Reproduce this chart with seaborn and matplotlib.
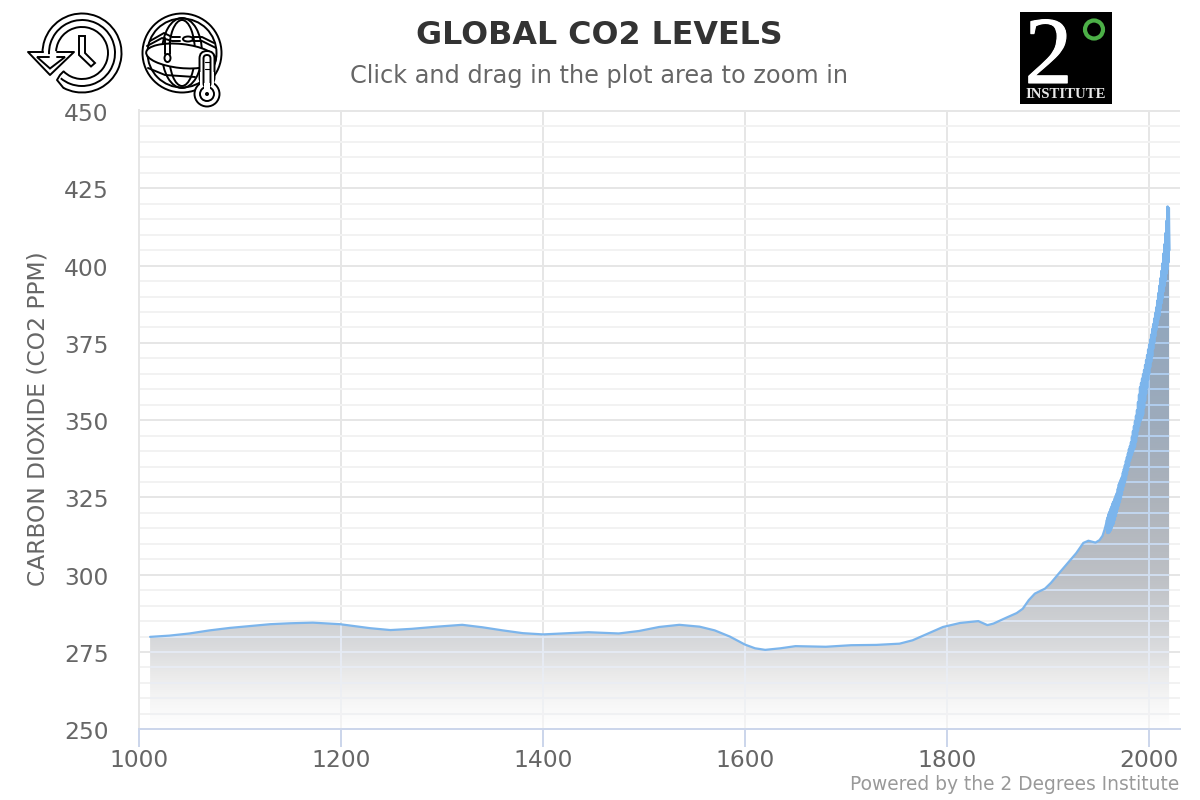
import numpy as np
import pandas as pd
import seaborn as sns
import matplotlib
matplotlib.use("Agg")
import matplotlib.pyplot as plt
import matplotlib.patheffects as pe
from matplotlib.collections import LineCollection
from matplotlib.colors import LinearSegmentedColormap
from matplotlib.patches import Arc, Circle, Ellipse, Polygon, Rectangle, FancyBboxPatch
from matplotlib.transforms import ScaledTranslation

# ---------- data ----------
proxy_years = [1011, 1030, 1050, 1070, 1090, 1110, 1130, 1150, 1172, 1199, 1215, 1229, 1249, 1270, 1295, 1320,
               1340, 1360, 1380, 1400, 1420, 1445, 1475, 1495, 1515, 1535, 1555, 1570, 1585, 1600, 1610, 1620,
               1635, 1650, 1680, 1705, 1730, 1753, 1766, 1780, 1796, 1813, 1831, 1840, 1846, 1858, 1869, 1875,
               1881, 1887, 1897, 1903, 1912, 1922, 1928, 1935, 1940, 1947, 1951, 1954, 1956]
proxy_ppm = [279.9, 280.3, 281.0, 282.0, 282.8, 283.4, 284.0, 284.3, 284.5, 284.0, 283.3, 282.7, 282.1, 282.5, 283.2, 283.8,
             283.0, 282.0, 281.1, 280.7, 281.0, 281.4, 281.0, 281.8, 283.1, 283.8, 283.2, 282.0, 280.0, 277.4, 276.2, 275.7,
             276.2, 276.9, 276.7, 277.2, 277.3, 277.7, 278.8, 280.8, 283.1, 284.4, 285.0, 283.7, 284.2, 286.0, 287.6, 289.0,
             291.8, 293.9, 295.5, 297.4, 300.9, 304.7, 307.0, 310.3, 311.0, 310.4, 311.2, 312.6, 314.6]

seasonal_years = list(range(1958, 2020))
seasonal_peaks = [317.6, 318.6, 319.7, 320.5, 321.4, 322.2, 323.2, 323.8, 324.7, 325.6, 326.4, 327.8,
                  329.2, 330.0, 330.8, 331.6, 333.0, 334.2, 335.4, 336.8, 338.0, 339.2, 340.6, 341.6, 342.8,
                  344.6, 346.4, 348.0, 349.6, 351.4, 353.2, 355.8, 358.2, 360.6, 362.0, 363.4, 364.8, 366.2,
                  367.8, 369.4, 371.0, 372.8, 374.4, 376.0, 377.6, 379.4, 381.0, 382.8, 384.6, 386.4, 388.6,
                  391.0, 393.4, 395.8, 398.2, 400.6, 403.8, 406.8, 410.4, 414.4, 419.0, 418.6]
seasonal_troughs = [313.6, 313.6, 313.9, 314.4, 315.2, 316.0, 316.6, 317.8, 319.0, 320.2, 321.4, 322.4,
                    323.5, 324.7, 326.0, 327.5, 328.7, 329.9, 331.1, 332.5, 333.9, 335.3, 336.9, 337.9, 338.9,
                    339.9, 340.7, 341.5, 343.1, 344.9, 346.7, 348.1, 349.5, 350.3, 350.9, 351.9, 354.1, 356.3,
                    358.5, 360.5, 363.1, 365.1, 367.1, 368.9, 370.7, 373.1, 375.1, 377.1, 379.1, 380.9, 382.5,
                    383.7, 385.9, 387.7, 389.3, 391.5, 393.3, 395.1, 397.3, 398.7, 401.0, 405.0]

x_ticks = [1000, 1200, 1400, 1600, 1800, 2000]
y_ticks = [250, 275, 300, 325, 350, 375, 400, 425, 450]
minor_y_ticks = [v for v in range(250, 451, 5) if v not in y_ticks]

title = "GLOBAL CO2 LEVELS"
subtitle = "Click and drag in the plot area to zoom in"
y_label = "CARBON DIOXIDE (CO2 PPM)"
credit = "Powered by the 2 Degrees Institute"

# ---------- assemble series ----------
xs = list(proxy_years)
ys = list(proxy_ppm)
mx, my = [proxy_years[-1]], [proxy_ppm[-1]]
for yr, p, t in zip(seasonal_years, seasonal_peaks, seasonal_troughs):
    xs += [yr + 0.4, yr + 0.9]
    ys += [p, t]
    mx += [yr + 0.4, yr + 0.9]
    my += [p, t]
df = pd.DataFrame({"year": xs, "ppm": ys})
df_modern = pd.DataFrame({"year": mx[1:], "ppm": my[1:]})

# ---------- theme ----------
sns.set_theme(style="white")
plt.rcParams["font.family"] = ["DejaVu Sans"]
W, H = 1200, 800
fig = plt.figure(figsize=(12, 8), dpi=100, facecolor="white")
L, R, T, B = 139, 1180, 109.6, 729.3
ax = fig.add_axes([L / W, 1 - B / H, (R - L) / W, (B - T) / H])
ax.set_xlim(1000, 1000 + (R - L) / 1.01)
ax.set_ylim(250, 250 + (B - T) / 3.0914)

LW = 1.44
ax.set_axisbelow(True)
ax.set_xticks(x_ticks)
ax.set_yticks(y_ticks)
ax.set_yticks(minor_y_ticks, minor=True)
ax.grid(True, which="major", axis="both", color="#e6e6e6", lw=LW, zorder=1)
ax.grid(True, which="minor", axis="y", color="#f2f2f2", lw=LW, zorder=1)
ax.tick_params(axis="y", which="both", left=False, length=0, pad=22, labelsize=16.8, labelcolor="#666666")
ax.tick_params(axis="x", which="major", bottom=True, length=13, width=LW, color="#ccd6eb", pad=1.5, labelsize=16.8, labelcolor="#666666")
for lab in ax.get_yticklabels():
    lab.set_transform(lab.get_transform() + ScaledTranslation(0, -1 / 100, fig.dpi_scale_trans))
for name, sp in ax.spines.items():
    sp.set_visible(name in ("bottom", "left"))
    sp.set_linewidth(LW)
    sp.set_color("#ccd6eb" if name == "bottom" else "#e6e6e6")
    sp.set_zorder(5 if name == "bottom" else 1.5)

# gradient area below the curve
fill_cmap = LinearSegmentedColormap.from_list("fill", [
    (0.0, "#ffffff"), (0.05, "#f6f6f6"), (0.1, "#ebebeb"), (0.15, "#dbdcde"), (0.2, "#cfd1d4"), (0.29, "#bdc0c5"),
    (0.44, "#adb3bb"), (0.59, "#9dabbb"), (0.76, "#93a7bd"), (1.0, "#86a0bf")])
grad = np.linspace(1, 0, 256).reshape(-1, 1)
x0, x1 = ax.get_xlim()
im = ax.imshow(grad, cmap=fill_cmap, vmin=0, vmax=1, extent=[x0, x1, 250, 420], aspect="auto", zorder=2)
ax.set_ylim(250, 250 + (B - T) / 3.0914)
poly = Polygon(np.column_stack([xs + [xs[-1], xs[0]], ys + [250, 250]]), closed=True,
               transform=ax.transData, fc="none", ec="none")
ax.add_patch(poly)
im.set_clip_path(poly)

# grid lines seen through the area
grid_cmap = LinearSegmentedColormap.from_list("gridtint", [
    (0.0, "#f3f3f3"), (0.15, "#e4e9f3"), (0.3, "#cfdcee"), (0.45, "#bcd2ec"), (0.65, "#aecbec"), (1.0, "#a5c6ec")])
hv = [v for v in sorted(y_ticks + minor_y_ticks) if 250 < v <= 420]
h_lines = LineCollection([[(x0, v), (x1, v)] for v in hv],
                         colors=[grid_cmap((v - 250) / 170) for v in hv], linewidths=LW, zorder=3)
ax.add_collection(h_lines)
h_lines.set_clip_path(poly)
levels = np.arange(250, 420, 2.0)
segs, cols = [], []
for xv in x_ticks[1:]:
    for a in levels:
        segs.append([(xv, a), (xv, a + 2)])
        cols.append(grid_cmap((a - 250) / 170))
v_lines = LineCollection(segs, colors=cols, linewidths=LW, zorder=3, capstyle="butt")
ax.add_collection(v_lines)
v_lines.set_clip_path(poly)

sns.lineplot(data=df, x="year", y="ppm", estimator=None, sort=False, color="#7cb5ec", lw=1.6, ax=ax, zorder=4, legend=False)
sns.lineplot(data=df_modern, x="year", y="ppm", estimator=None, sort=False, color="#7cb5ec", lw=2.1, ax=ax, zorder=4, legend=False)
ax.set_xlabel("")
ax.set_ylabel(y_label, fontsize=16.8, color="#666666")
ax.yaxis.set_label_coords((50 - L) / (R - L), (B - 419) / (B - T))

# ---------- page text ----------
def fx(px): return px / W
def fy(py): return 1 - py / H
fig.text(fx(599.5), fy(35.5), title, ha="center", va="center", fontsize=22.9, fontweight="bold", color="#333333")
fig.text(fx(599.5), fy(75.5), subtitle, ha="center", va="center", fontsize=17.27, color="#666666")
fig.text(fx(1179), fy(784), credit, ha="right", va="center", fontsize=13.4, color="#999999")

# ---------- icons and logo, in page pixels ----------
ov = fig.add_axes([0, 0, 1, 1], zorder=10)
ov.set_xlim(0, W)
ov.set_ylim(H, 0)
ov.axis("off")
ov.patch.set_alpha(0)
ilw = 1.4

def ring(cx, cy, r, th1=0, th2=360, lw=ilw):
    ov.add_patch(Arc((cx, cy), 2 * r, 2 * r, theta1=th1, theta2=th2, ec="black", lw=lw, fc="none"))

# clock-with-arrow icon (y axis is inverted, so Arc angles run clockwise on screen)
cx, cy = 82, 53
ring(cx, cy, 39.5, 180, 118)
ring(cx, cy, 33, 178, 130)
ring(cx, cy, 26, 184, 135)
ov.plot([43, 28, 50, 74, 57], [52, 52, 75, 52, 52], color="black", lw=ilw)
ov.plot([49, 37, 50, 65, 57], [57, 57, 68.5, 57, 57], color="black", lw=ilw, solid_joinstyle="miter")
ov.plot([63.5, 60, 57, 63.5], [71.4, 75, 80, 88], color="black", lw=ilw)
ov.add_patch(Polygon([(79, 36), (85, 36), (85, 53), (95, 63), (91, 66.5), (79, 55)], closed=True, fc="white", ec="black", lw=ilw))

# globe-with-thermometer icon
gx, gy = 182, 53
ov.add_patch(Circle((gx, gy), 39.5, fc="white", ec="black", lw=ilw))
ov.add_patch(Circle((gx, gy), 34.5, fc="white", ec="black", lw=ilw))
ov.add_patch(Ellipse((gx, gy), 40, 70, fc="none", ec="black", lw=ilw))
ov.add_patch(Ellipse((gx, gy), 26, 66, fc="none", ec="black", lw=ilw))
ov.add_patch(Ellipse((gx - 1, gy + 3), 70, 24, angle=6, fc="white", ec="black", lw=ilw))
ov.plot([150, 164, 172, 180], [41, 33, 37, 37], color="black", lw=ilw)
ov.plot([147, 162, 172, 180], [46, 38, 41, 41], color="black", lw=ilw)
ov.plot([170, 170], [41, 54], color="black", lw=ilw)
ov.plot([165, 165], [38, 54], color="black", lw=ilw)
ov.add_patch(Ellipse((167.5, 58), 6, 8, fc="white", ec="black", lw=ilw))
ov.add_patch(Ellipse((188, 39), 10, 5, fc="white", ec="black", lw=ilw))
ov.plot([193, 202, 214], [37, 37, 43], color="black", lw=ilw)
ov.plot([193, 202, 216], [41, 41, 48], color="black", lw=ilw)
ov.plot([148, 165, 195], [68, 75, 77], color="black", lw=ilw)
ov.add_patch(FancyBboxPatch((199.5, 51), 15, 34, boxstyle="round,pad=0,rounding_size=7.5", fc="white", ec="black", lw=ilw))
ov.add_patch(Circle((207, 94), 12.5, fc="white", ec="black", lw=ilw))
ov.add_patch(Rectangle((200.2, 72), 13.6, 16, fc="white", ec="none"))
ov.add_patch(FancyBboxPatch((203.5, 55), 7, 32, boxstyle="round,pad=0,rounding_size=3.5", fc="white", ec="black", lw=ilw))
ov.add_patch(Circle((207, 94), 7, fc="white", ec="black", lw=ilw))
ov.add_patch(Rectangle((204.1, 83), 5.8, 7, fc="white", ec="none"))
ov.add_patch(Circle((207, 94), 2, fc="black", ec="none"))
ov.plot([204.5, 209.5], [62, 62], color="black", lw=0.8)
ov.plot([204.5, 209.5], [69, 69], color="black", lw=0.8)

# institute logo
ov.add_patch(Rectangle((1020, 12), 92, 92, fc="black", ec="none"))
two = ov.text(1048.5, 83, "2", color="white", family="Liberation Serif", fontsize=69, ha="center", va="baseline")
two.set_path_effects([pe.withStroke(linewidth=0.8, foreground="white")])
ov.add_patch(Circle((1094, 29.5), 9, fc="none", ec="#4caf47", lw=3))
ov.text(1066, 98, "INSTITUTE", color="#e8e8e8", family="Liberation Serif", fontweight="bold", fontsize=10.6, ha="center", va="baseline")

fig.savefig("out.png", dpi=100, facecolor="white")
